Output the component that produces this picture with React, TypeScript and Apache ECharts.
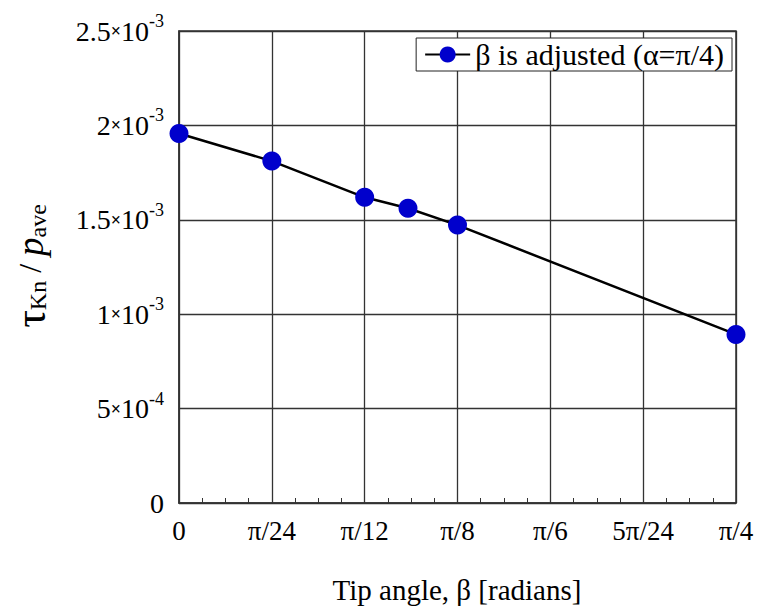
import React, { useEffect, useRef } from "react";
import * as echarts from "echarts";

// x in degrees (π/24 = 7.5°)
const angles: number[] = [0, 7.5, 15, 18.5, 22.5, 45];
const tauRatio: number[] = [1.957e-3, 1.811e-3, 1.619e-3, 1.561e-3, 1.472e-3, 0.893e-3];
const xTickLabels: string[] = ["0", "π/24", "π/12", "π/8", "π/6", "5π/24", "π/4"];
const yTickMantissa: string[] = ["0", "5", "1", "1.5", "2", "2.5"];
const yTickExp: string[] = ["", "-4", "-3", "-3", "-3", "-3"];
const seriesName = "β is adjusted (α=π/4)";

const SERIF = "'Liberation Serif', 'Times New Roman', serif";

export default function App() {
  const ref = useRef<HTMLDivElement>(null);
  useEffect(() => {
    if (!ref.current) return;
    const chart = echarts.init(ref.current, undefined, { renderer: "svg" });
    chart.setOption({
      animation: false,
      backgroundColor: "#ffffff",
      textStyle: { fontFamily: SERIF, color: "#000" },
      grid: {
        left: 179,
        top: 31,
        right: 22,
        bottom: 103,
        show: true,
        borderColor: "#333",
        borderWidth: 1.5,
        backgroundColor: "transparent",
      },
      legend: {
        right: 26,
        top: 38,
        orient: "horizontal",
        backgroundColor: "#fff",
        borderColor: "#222",
        borderWidth: 1,
        borderRadius: 0,
        padding: [1, 8, 1, 8],
        itemWidth: 45,
        itemHeight: 20,
        itemGap: 4,
        textStyle: { fontFamily: SERIF, fontSize: 30, lineHeight: 31, color: "#000" },
        data: [{ name: seriesName }],
      },
      xAxis: {
        type: "value",
        min: 0,
        max: 45,
        interval: 7.5,
        axisLine: { show: true, lineStyle: { color: "#333", width: 1.5 } },
        axisTick: { show: true, inside: true, length: 5, lineStyle: { color: "#333" } },
        minorTick: { show: true, splitNumber: 4, length: 5, lineStyle: { color: "#333", width: 1 } },
        splitLine: { show: true, lineStyle: { color: "#333", width: 1.3 } },
        axisLabel: {
          fontFamily: SERIF,
          fontSize: 27,
          color: "#000",
          margin: 14,
          formatter: (v: number) => {
            const i = Math.round(v / 7.5);
            return xTickLabels[i] ?? "";
          },
        },
      },
      yAxis: {
        type: "value",
        min: 0,
        max: 0.0025,
        interval: 0.0005,
        axisLine: { show: true, lineStyle: { color: "#333", width: 1.5 } },
        axisTick: { show: false },
        splitLine: { show: true, lineStyle: { color: "#333", width: 1.3 } },
        axisLabel: {
          margin: 15,
          formatter: (v: number) => {
            const i = Math.round(v / 0.0005);
            if (i === 0) return "{m|0}";
            return `{m|${yTickMantissa[i]}}{x|×}{m|10}{s|${yTickExp[i]}}`;
          },
          rich: {
            m: { fontFamily: SERIF, fontSize: 28, color: "#000" },
            x: { fontFamily: SERIF, fontSize: 18, fontWeight: "bold", color: "#000" },
            s: { fontFamily: SERIF, fontSize: 18, color: "#000", padding: [0, 0, 20, 0] },
          },
        },
      },
      graphic: [
        {
          type: "text",
          x: 457,
          y: 590,
          style: {
            text: "Tip angle, β [radians]",
            font: `29px ${SERIF}`,
            fill: "#000",
            align: "center",
            verticalAlign: "middle",
          },
        },
        {
          type: "text",
          x: 30,
          y: 266,
          rotation: Math.PI / 2,
          style: {
            text: "{t|τ}{sub|Kn}{sl| / }{p|p}{sub|ave}",
            align: "center",
            verticalAlign: "middle",
            rich: {
              t: { fontFamily: SERIF, fontSize: 44, fill: "#000" },
              sub: { fontFamily: SERIF, fontSize: 24, fill: "#000", padding: [16, 0, 0, 0] },
              sl: { fontFamily: SERIF, fontSize: 32, fill: "#000" },
              p: { fontFamily: SERIF, fontSize: 37, fontStyle: "italic", fill: "#000" },
            },
          },
        },
      ],
      series: [
        {
          name: seriesName,
          type: "line",
          data: angles.map((a, i) => [a, tauRatio[i]]),
          symbol: "circle",
          symbolSize: 19,
          lineStyle: { color: "#000", width: 2.5 },
          itemStyle: { color: "#0000CC" },
          z: 5,
        },
      ],
    });
    return () => chart.dispose();
  }, []);
  return (
    <div
      ref={ref}
      style={{ position: "absolute", left: 0, top: 0, width: 758, height: 606 }}
    />
  );
}
